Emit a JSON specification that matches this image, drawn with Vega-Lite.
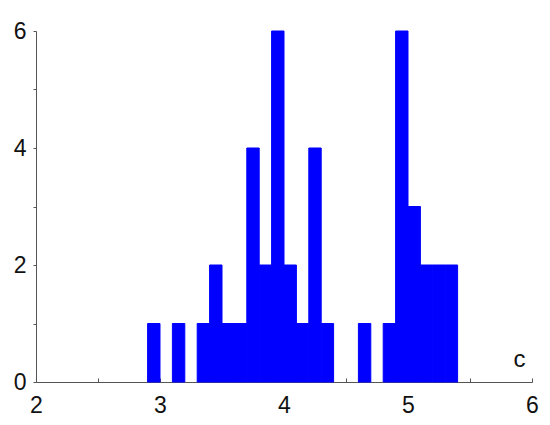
{
  "$schema": "https://vega.github.io/schema/vega-lite/v6.json",
  "width": 496,
  "height": 351,
  "autosize": "none",
  "padding": {"left": 36, "top": 31, "right": 18, "bottom": 43},
  "background": "white",
  "data": {
    "values": [
      {"bin_start": 2.9, "bin_end": 3.0, "count": 1},
      {"bin_start": 3.1, "bin_end": 3.2, "count": 1},
      {"bin_start": 3.3, "bin_end": 3.4, "count": 1},
      {"bin_start": 3.4, "bin_end": 3.5, "count": 2},
      {"bin_start": 3.5, "bin_end": 3.6, "count": 1},
      {"bin_start": 3.6, "bin_end": 3.7, "count": 1},
      {"bin_start": 3.7, "bin_end": 3.8, "count": 4},
      {"bin_start": 3.8, "bin_end": 3.9, "count": 2},
      {"bin_start": 3.9, "bin_end": 4.0, "count": 6},
      {"bin_start": 4.0, "bin_end": 4.1, "count": 2},
      {"bin_start": 4.1, "bin_end": 4.2, "count": 1},
      {"bin_start": 4.2, "bin_end": 4.3, "count": 4},
      {"bin_start": 4.3, "bin_end": 4.4, "count": 1},
      {"bin_start": 4.6, "bin_end": 4.7, "count": 1},
      {"bin_start": 4.8, "bin_end": 4.9, "count": 1},
      {"bin_start": 4.9, "bin_end": 5.0, "count": 6},
      {"bin_start": 5.0, "bin_end": 5.1, "count": 3},
      {"bin_start": 5.1, "bin_end": 5.2, "count": 2},
      {"bin_start": 5.2, "bin_end": 5.3, "count": 2},
      {"bin_start": 5.3, "bin_end": 5.4, "count": 2}
    ]
  },
  "config": {
    "view": {"stroke": null},
    "axis": {
      "grid": false,
      "domainColor": "#555555",
      "tickColor": "#555555",
      "domainWidth": 1,
      "tickWidth": 1,
      "labelFont": "Liberation Sans",
      "labelFontSize": 23,
      "labelColor": "#111111",
      "titleFont": "Liberation Sans",
      "titleFontWeight": "normal",
      "titleColor": "#111111"
    }
  },
  "mark": {"type": "bar", "color": "#0000FF", "stroke": "#0000FF", "strokeWidth": 1},
  "encoding": {
    "x": {
      "field": "bin_start",
      "type": "quantitative",
      "scale": {"domain": [2, 6], "nice": false, "zero": false},
      "axis": {
        "values": [2, 2.5, 3, 3.5, 4, 4.5, 5, 5.5, 6],
        "labelExpr": "datum.value % 1 === 0 ? format(datum.value, 'd') : ''",
        "tickSize": -4,
        "labelPadding": 16,
        "labelFlush": false,
        "title": "c",
        "titleFontSize": 24,
        "titleX": 483,
        "titleY": -23,
        "titleAlign": "center",
        "titleBaseline": "middle"
      }
    },
    "x2": {"field": "bin_end"},
    "y": {
      "field": "count",
      "type": "quantitative",
      "scale": {"domain": [0, 6], "nice": false},
      "axis": {
        "values": [0, 1, 2, 3, 4, 5, 6],
        "labelExpr": "datum.value % 2 === 0 ? datum.label : ''",
        "tickSize": 3,
        "labelPadding": 7,
        "labelFlush": false,
        "title": null
      }
    },
    "y2": {"datum": 0}
  }
}
